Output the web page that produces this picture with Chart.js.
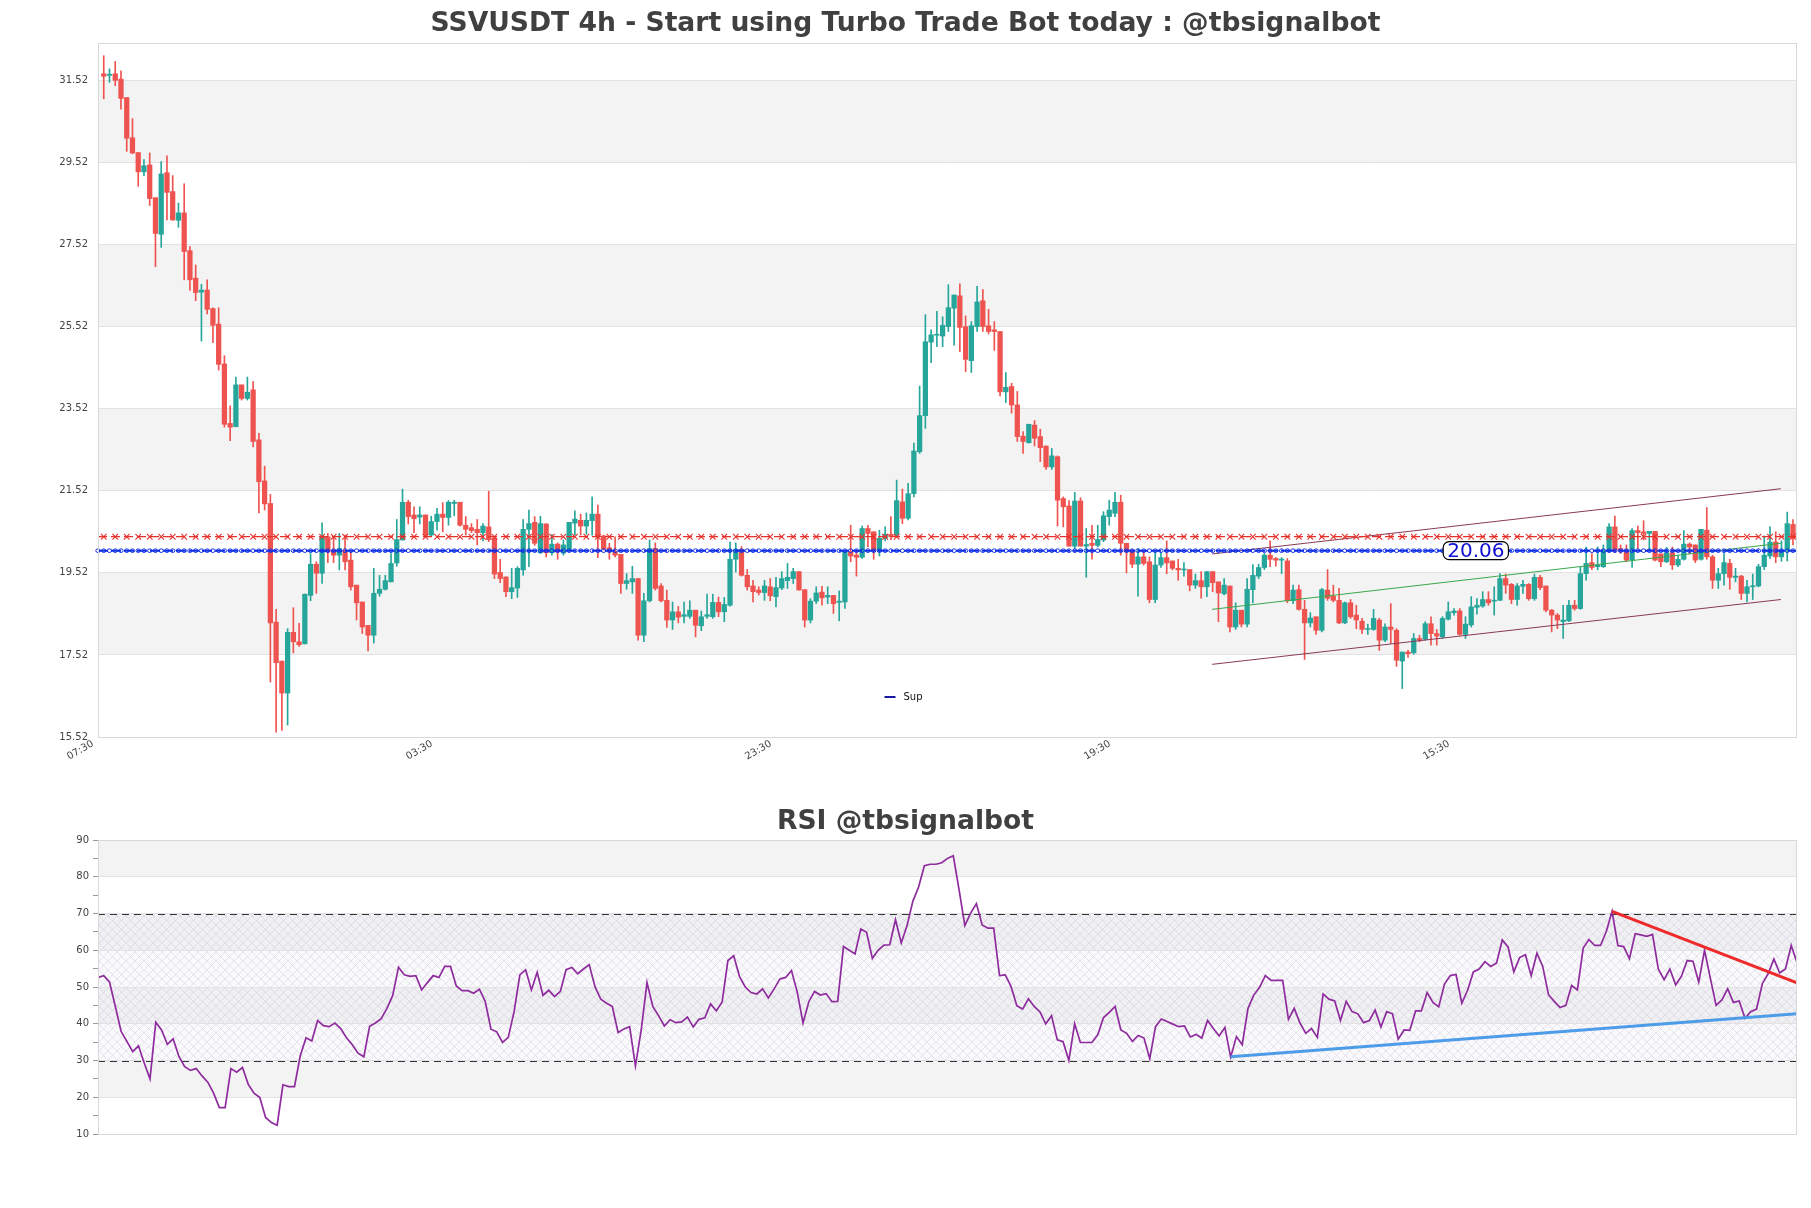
<!DOCTYPE html>
<html>
<head>
<meta charset="utf-8">
<title>SSVUSDT 4h</title>
<script src="https://cdn.jsdelivr.net/npm/chart.js@4.4.1/dist/chart.umd.min.js"></script>
<style>
  body { margin: 0; background: #fff; width: 1811px; height: 1208px; overflow: hidden; position: relative; }
  #mainchart { position: absolute; left: 0; top: 0; }
  #rsichart { position: absolute; left: 0; top: 790px; }
</style>
</head>
<body>
<canvas id="mainchart" width="1811" height="790"></canvas>
<canvas id="rsichart" width="1811" height="418"></canvas>
<script>
"use strict";

// candles (index 0 = first 4h candle)
const candleOpen = [31.68,31.64,31.68,31.55,31.10,30.12,29.76,29.29,29.46,28.66,27.77,29.27,28.81,28.11,28.29,27.37,26.70,26.36,26.41,25.96,25.58,24.61,23.16,23.08,24.10,23.77,23.98,22.76,21.76,21.21,18.32,17.37,16.59,18.07,17.84,17.79,18.97,19.73,19.51,20.40,20.07,19.95,20.07,19.83,19.22,18.81,18.24,18.00,19.02,19.12,19.30,19.76,20.32,21.24,20.93,20.88,20.93,20.44,20.77,20.95,20.87,21.21,21.24,20.68,20.62,20.58,20.50,20.64,20.36,19.53,19.42,19.06,19.15,19.59,20.58,20.75,20.01,20.71,20.01,20.22,20.00,20.09,20.73,20.80,20.66,20.79,20.95,20.42,20.13,20.03,19.97,19.26,19.30,19.38,18.00,18.84,20.11,19.20,18.85,18.37,18.57,18.46,18.46,18.61,18.23,18.46,18.45,18.80,18.57,18.73,19.85,20.09,19.46,19.20,19.10,19.04,19.18,18.94,19.15,19.33,19.38,19.55,19.11,18.37,18.83,19.05,18.93,18.97,18.80,18.81,20.03,19.95,19.90,20.60,20.52,20.07,20.36,20.46,20.44,21.25,20.85,21.45,22.47,23.35,25.14,25.31,25.29,25.52,25.97,26.27,25.52,24.69,25.52,26.15,25.54,25.44,25.40,23.93,24.06,23.61,22.85,22.69,23.12,22.84,22.61,22.10,22.35,21.33,21.15,20.17,21.27,20.17,20.24,20.19,20.32,20.89,20.97,21.24,20.24,20.07,19.73,19.91,19.79,18.87,19.71,19.89,19.81,19.63,19.59,19.60,19.22,19.33,19.18,19.55,19.30,19.01,19.20,18.20,18.61,18.27,19.11,19.44,19.65,19.95,19.87,19.83,19.81,18.84,19.11,18.63,18.30,18.45,18.12,19.10,18.95,18.85,18.30,18.79,18.49,18.34,18.14,18.14,18.37,17.88,18.20,18.12,17.37,17.59,17.57,17.92,17.90,18.28,18.04,17.96,18.39,18.55,18.59,18.02,18.25,18.68,18.71,18.87,18.83,18.85,19.38,19.24,18.87,19.19,19.24,18.89,19.41,19.20,18.61,18.49,18.33,18.35,18.73,18.65,19.50,19.77,19.67,19.67,20.07,20.64,20.11,20.07,19.83,20.55,20.52,20.48,20.53,19.98,19.79,20.01,19.71,19.85,20.22,20.20,19.85,20.56,19.91,19.34,19.50,19.75,19.41,19.44,19.02,19.18,19.20,19.67,19.93,20.27,19.91,20.07,20.70];
const candleHigh = [32.12,31.80,31.98,31.75,31.10,30.59,29.76,29.59,29.75,28.66,29.54,29.68,29.20,28.53,29.00,27.47,27.02,26.55,26.66,25.98,25.98,24.81,23.59,24.29,24.10,24.29,24.18,22.92,22.12,21.43,18.63,17.37,18.16,18.67,18.29,19.00,19.99,19.79,20.74,20.48,20.40,20.48,20.44,20.03,19.22,18.81,18.24,19.63,19.46,19.46,19.99,20.82,21.56,21.29,21.13,21.13,20.93,20.90,21.09,21.23,21.28,21.29,21.24,20.89,20.72,20.82,20.72,21.51,20.36,19.85,19.42,19.63,19.67,20.82,21.05,20.89,20.90,20.72,20.45,20.25,20.32,20.75,21.03,20.95,20.98,21.37,21.17,20.44,20.24,20.40,19.97,19.50,19.68,19.38,19.02,20.32,20.25,19.26,19.10,18.81,18.70,18.81,18.84,18.61,18.59,19.00,19.00,18.93,18.92,20.27,20.25,20.16,19.60,19.34,19.18,19.34,19.38,19.41,19.55,19.75,19.63,19.55,19.11,18.89,19.18,19.19,19.18,18.97,19.08,20.03,20.68,20.08,20.66,20.68,20.52,20.56,20.64,20.89,21.78,21.56,21.70,22.68,24.07,25.81,25.44,25.89,25.76,26.54,26.29,26.56,25.78,25.64,26.50,26.42,25.94,25.64,25.40,24.40,24.14,23.94,22.96,23.14,23.23,23.02,22.61,22.55,22.37,21.37,21.28,21.48,21.35,20.60,20.68,20.68,21.01,21.29,21.48,21.41,20.24,20.09,20.11,20.07,19.91,20.03,20.01,20.30,19.81,19.85,19.77,19.60,19.49,19.55,19.55,19.55,19.30,19.38,19.20,18.79,18.61,19.38,19.72,19.73,19.99,20.30,19.89,19.89,19.87,19.22,19.22,18.85,18.55,18.45,19.14,19.60,19.22,19.14,18.81,18.87,18.73,18.41,18.27,18.63,18.41,18.28,18.77,18.16,17.59,17.63,18.04,18.00,18.33,18.45,18.14,18.45,18.81,18.65,18.65,18.45,18.94,18.89,19.06,19.06,19.18,19.50,19.49,19.26,19.26,19.34,19.26,19.49,19.46,19.20,18.63,18.53,18.73,18.85,18.85,19.67,20.15,19.99,20.15,20.20,20.72,20.90,20.20,20.20,20.60,20.66,20.79,20.53,20.53,19.98,20.14,20.15,19.95,20.55,20.25,20.20,20.58,21.11,19.95,19.63,19.99,19.85,19.63,19.46,19.34,19.49,19.73,20.42,20.64,20.52,20.30,21.00,20.82];
const candleLow = [31.07,31.47,31.39,30.82,29.79,29.73,28.94,29.20,28.47,26.98,27.45,28.12,28.11,27.94,26.66,26.40,26.15,25.17,25.83,25.13,24.46,23.07,22.74,23.08,23.73,23.73,22.59,20.98,21.05,16.86,15.64,15.68,15.81,17.57,17.73,17.79,18.84,19.02,19.26,19.77,19.77,19.59,19.59,19.10,18.37,18.04,17.62,17.81,18.95,19.10,19.30,19.68,20.32,20.71,20.50,20.71,20.42,20.42,20.56,20.52,20.68,20.91,20.66,20.44,20.50,20.20,20.30,20.28,19.38,19.28,18.94,18.89,18.92,19.46,19.67,20.19,19.99,19.91,19.95,19.85,19.95,20.07,20.44,20.44,20.46,20.44,19.89,20.07,19.85,19.91,19.02,19.12,19.02,17.88,17.84,18.81,19.10,18.81,18.19,18.14,18.30,18.30,18.41,17.96,18.11,18.41,18.41,18.45,18.33,18.71,19.54,19.44,19.10,18.81,18.98,18.85,18.84,18.69,19.11,19.14,19.26,19.10,18.20,18.30,18.77,18.73,18.77,18.53,18.35,18.65,19.79,19.44,19.87,20.15,19.85,19.93,20.30,20.33,20.41,20.72,20.81,21.37,22.43,23.04,24.64,25.03,25.03,25.40,25.07,24.91,24.42,24.40,25.40,25.40,25.34,24.94,23.83,23.67,23.41,22.72,22.43,22.68,22.61,22.23,22.04,22.04,20.66,20.64,20.17,20.11,20.17,19.41,19.85,20.15,20.28,20.68,20.89,19.95,19.52,19.65,18.95,19.71,18.79,18.79,19.65,19.50,19.59,19.34,19.44,19.08,19.14,18.90,18.94,19.06,18.33,18.98,18.08,18.14,18.20,18.20,18.79,19.38,19.60,19.67,19.68,19.50,18.79,18.77,18.61,17.41,18.20,18.02,18.08,18.85,18.81,18.28,18.28,18.41,18.16,18.04,18.02,18.12,17.63,17.84,17.80,17.24,16.70,17.46,17.54,17.84,17.88,17.76,17.76,17.92,18.37,18.49,18.00,17.92,18.20,18.51,18.68,18.73,18.49,18.84,19.02,18.77,18.73,19.02,18.85,18.85,19.11,18.57,18.08,18.16,17.92,18.33,18.61,18.63,19.34,19.60,19.59,19.65,20.03,20.01,19.99,19.79,19.65,20.11,20.32,20.07,19.81,19.67,19.77,19.60,19.67,19.83,19.98,19.77,19.83,19.85,19.14,19.14,19.22,19.12,19.30,18.87,18.81,18.87,19.18,19.60,19.87,19.77,19.80,19.81,20.20];
const candleClose = [31.62,31.67,31.52,31.08,30.11,29.75,29.29,29.44,28.64,27.79,29.24,28.79,28.12,28.29,27.35,26.66,26.35,26.41,25.94,25.55,24.60,23.14,23.07,24.10,23.77,23.92,22.72,21.74,21.20,18.30,17.33,16.59,18.07,17.84,17.77,19.00,19.73,19.51,20.40,20.03,19.95,20.11,19.79,19.18,18.79,18.20,18.00,19.02,19.12,19.33,19.75,20.33,21.24,20.89,20.84,20.93,20.44,20.77,20.95,20.87,21.24,21.24,20.68,20.58,20.55,20.50,20.66,20.33,19.49,19.38,19.06,19.16,19.63,20.58,20.72,20.24,20.72,20.01,20.22,20.03,20.20,20.75,20.83,20.66,20.80,20.95,20.40,20.11,20.03,19.95,19.26,19.33,19.38,18.00,18.84,20.11,19.14,18.84,18.37,18.57,18.44,18.50,18.61,18.24,18.45,18.50,18.80,18.57,18.75,19.85,20.09,19.46,19.18,19.06,19.04,19.20,18.96,19.16,19.38,19.41,19.55,19.10,18.37,18.83,19.03,18.91,18.97,18.77,18.83,20.03,19.93,19.90,20.60,20.48,20.07,20.36,20.46,20.40,21.28,20.85,21.45,22.49,23.35,25.15,25.32,25.32,25.55,25.98,26.29,25.50,24.72,25.54,26.12,25.52,25.40,25.40,23.93,24.04,23.61,22.84,22.72,23.14,22.80,22.57,22.10,22.37,21.29,21.13,20.17,21.27,20.17,20.21,20.19,20.33,20.91,21.05,21.24,20.24,20.03,19.73,19.91,19.75,18.87,19.71,19.89,19.76,19.63,19.59,19.61,19.22,19.33,19.18,19.55,19.28,19.03,19.22,18.20,18.61,18.27,19.12,19.46,19.65,19.95,19.85,19.83,19.85,18.84,19.10,18.63,18.30,18.42,18.12,19.11,18.90,18.85,18.30,18.79,18.45,18.37,18.14,18.16,18.41,17.88,18.20,18.14,17.39,17.59,17.55,17.92,17.88,18.28,18.04,17.98,18.41,18.57,18.59,18.02,18.27,18.69,18.73,18.87,18.79,18.85,19.38,19.22,18.87,19.20,19.24,18.89,19.41,19.16,18.61,18.49,18.37,18.37,18.73,18.65,19.50,19.75,19.65,19.71,20.07,20.64,20.07,20.07,19.83,20.55,20.50,20.48,20.53,19.83,19.79,20.01,19.71,19.85,20.22,20.15,19.83,20.58,19.91,19.34,19.50,19.77,19.41,19.44,19.02,19.18,19.20,19.67,19.95,20.27,19.91,20.07,20.72,20.36];

const rsiValues = [52.6,53.1,51.3,44.7,37.9,35.2,32.4,34.0,29.3,25.0,40.4,38.3,34.4,35.9,31.1,28.3,27.3,27.8,25.8,24.1,21.1,17.2,17.2,27.8,26.8,28.1,23.5,21.1,19.9,14.5,13.1,12.4,23.4,22.9,22.9,31.3,36.2,35.3,40.9,39.5,39.2,40.2,38.7,36.2,34.3,32.0,31.0,39.3,40.2,41.4,44.2,47.7,55.4,53.3,52.9,53.1,49.2,51.2,53.1,52.6,55.6,55.6,50.3,49.0,49.0,48.3,49.4,46.1,38.5,37.8,34.9,36.3,43.3,53.3,54.7,49.2,54.0,47.7,49.1,47.4,48.8,54.7,55.3,53.6,54.9,56.1,50.1,46.7,45.6,44.7,37.6,38.6,39.2,28.5,38.3,51.2,44.7,42.2,39.4,41.1,40.3,40.5,41.8,39.1,41.2,41.6,45.4,43.5,45.9,57.2,58.5,52.9,50.0,48.5,48.1,49.5,47.0,49.5,52.2,52.6,54.5,48.6,40.2,46.0,48.8,47.8,48.2,46.0,46.1,61.0,60.0,59.0,65.8,64.9,57.8,60.0,61.4,61.5,68.3,62.0,66.7,73.3,77.2,83.0,83.4,83.4,83.8,85.0,85.7,76.5,66.7,70.1,72.7,66.9,66.0,66.0,53.1,53.3,50.1,44.9,44.0,46.8,44.7,43.2,40.0,42.2,35.6,35.1,30.0,40.0,34.9,34.9,34.9,37.0,41.7,43.1,44.7,38.3,37.4,35.2,36.8,36.1,30.5,39.2,41.3,40.6,39.9,39.2,39.4,36.4,37.1,36.1,40.9,38.7,36.7,39.0,30.9,36.5,34.3,44.2,47.8,49.9,53.1,51.8,51.8,51.8,41.2,44.2,40.2,37.4,38.7,36.3,48.1,46.7,46.2,40.9,46.1,43.3,42.7,40.3,40.9,43.7,39.1,43.3,42.7,35.8,38.3,38.2,43.5,43.5,48.5,45.8,44.6,50.8,53.1,53.4,45.6,49.1,54.1,54.9,56.9,55.6,56.5,62.8,60.9,54.1,58.0,58.8,53.1,59.2,55.6,47.9,46.1,44.4,45.0,50.4,49.2,60.6,62.9,61.3,61.3,65.1,70.6,61.3,61.0,57.7,64.5,64.2,63.8,64.3,54.9,52.0,54.9,50.6,52.9,57.2,57.0,51.3,60.0,52.4,45.0,46.5,49.5,45.8,46.2,41.5,43.3,44.0,50.9,53.6,57.6,53.8,54.9,61.3,56.7];

const priceTicks = [15.52, 17.52, 19.52, 21.52, 23.52, 25.52, 27.52, 29.52, 31.52];
const timeTickIndex = [-1, 58, 117, 176, 235];
const timeTickLabels = ["07:30", "03:30", "23:30", "19:30", "15:30"];

const supportLevel = 20.06;
const resistanceLevel = 20.40;

// trend lines as [index, price] pairs
const channelTop = [[192.9, 19.98], [291.9, 21.57]];
const channelBottom = [[192.9, 17.29], [291.9, 18.87]];
const channelMid = [[192.9, 18.63], [291.9, 20.24]];
const rsiSupport = [[196, 31.0], [294, 42.7]];
const rsiResistance = [[262, 70.6], [294, 51.1]];

const UP = "#26a69a";
const DOWN = "#ef5350";
const FONT = "'DejaVu Sans', 'Liberation Sans', sans-serif";

Chart.defaults.font.family = FONT;
Chart.defaults.color = "#444";

function toPoints(pairs) {
  return pairs.map((p) => ({ x: p[0], y: p[1] }));
}

/**
 * Grey bands between every second pair of grid lines and a frame round the plot.
 */
function bandPlugin(bands, hatchRange) {
  return {
    id: "bands",
    beforeDraw(chart) {
      const { ctx, chartArea } = chart;
      const y = chart.scales.y;
      ctx.save();
      ctx.fillStyle = "#fff";
      ctx.fillRect(0, 0, chart.width, chart.height);
      ctx.fillStyle = "#f3f3f3";
      bands.forEach((b) => {
        const top = y.getPixelForValue(b[1]);
        const bottom = y.getPixelForValue(b[0]);
        ctx.fillRect(chartArea.left, top, chartArea.right - chartArea.left, bottom - top);
      });
      if (hatchRange) {
        const top = y.getPixelForValue(hatchRange[1]);
        const bottom = y.getPixelForValue(hatchRange[0]);
        ctx.fillStyle = "rgba(228, 222, 238, 0.18)";
        ctx.fillRect(chartArea.left, top, chartArea.right - chartArea.left, bottom - top);
        const tile = document.createElement("canvas");
        tile.width = 9;
        tile.height = 9;
        const g = tile.getContext("2d");
        g.strokeStyle = "rgba(172, 162, 195, 0.42)";
        g.lineWidth = 0.6;
        g.beginPath();
        g.moveTo(0, 0);
        g.lineTo(9, 9);
        g.moveTo(9, 0);
        g.lineTo(0, 9);
        g.stroke();
        ctx.fillStyle = ctx.createPattern(tile, "repeat");
        ctx.fillRect(chartArea.left, top, chartArea.right - chartArea.left, bottom - top);
      }
      ctx.restore();
    },
    afterDraw(chart) {
      const { ctx, chartArea } = chart;
      ctx.save();
      ctx.strokeStyle = "#d8d8d8";
      ctx.lineWidth = 1;
      ctx.strokeRect(chartArea.left + 0.5, chartArea.top + 0.5, chartArea.right - chartArea.left - 1, chartArea.bottom - chartArea.top);
      ctx.restore();
    },
  };
}

function titlePlugin(text, y) {
  return {
    id: "titletext",
    afterDraw(chart) {
      const ctx = chart.ctx;
      ctx.save();
      ctx.font = "bold 26.6px " + FONT;
      ctx.fillStyle = "#404040";
      ctx.textAlign = "center";
      ctx.textBaseline = "middle";
      ctx.fillText(text, chart.width / 2, y);
      ctx.restore();
    },
  };
}

// support / resistance levels, their price tag and the small legend
const levelPlugin = {
  id: "levels",
  afterDatasetsDraw(chart) {
    const { ctx, chartArea } = chart;
    const x = chart.scales.x;
    const y = chart.scales.y;
    const left = chartArea.left;
    const right = chartArea.right;
    ctx.save();

    const ry = y.getPixelForValue(resistanceLevel);
    ctx.strokeStyle = "#e8302a";
    ctx.lineWidth = 1.3;
    ctx.setLineDash([9, 4]);
    ctx.beginPath();
    ctx.moveTo(left, ry);
    ctx.lineTo(right, ry);
    ctx.stroke();
    ctx.setLineDash([]);
    ctx.lineWidth = 1.1;
    for (let i = 0; i < candleOpen.length; i += 2) {
      const px = x.getPixelForValue(i);
      ctx.beginPath();
      ctx.moveTo(px - 2.8, ry - 2.8);
      ctx.lineTo(px + 2.8, ry + 2.8);
      ctx.moveTo(px + 2.8, ry - 2.8);
      ctx.lineTo(px - 2.8, ry + 2.8);
      ctx.stroke();
    }

    const by = y.getPixelForValue(supportLevel);
    ctx.strokeStyle = "#1030e8";
    ctx.lineWidth = 2;
    ctx.setLineDash([10, 3]);
    ctx.beginPath();
    ctx.moveTo(left, by);
    ctx.lineTo(right, by);
    ctx.stroke();
    ctx.setLineDash([]);
    ctx.lineWidth = 1;
    for (let i = -1; i < candleOpen.length; i++) {
      const px = x.getPixelForValue(i);
      ctx.beginPath();
      ctx.ellipse(px, by, 2.2, 1.8, 0, 0, Math.PI * 2);
      ctx.stroke();
    }

    // price tag
    const tagX = x.getPixelForValue(238.8);
    ctx.font = "20px " + FONT;
    const w = ctx.measureText(supportLevel.toFixed(2)).width + 8;
    const h = 18;
    ctx.beginPath();
    ctx.roundRect(tagX - w / 2, by - h / 2, w, h, 6);
    ctx.fillStyle = "#fff";
    ctx.fill();
    ctx.strokeStyle = "#000";
    ctx.lineWidth = 1.2;
    ctx.stroke();
    ctx.fillStyle = "#1010d0";
    ctx.textAlign = "center";
    ctx.textBaseline = "middle";
    ctx.fillText(supportLevel.toFixed(2), tagX, by + 1);

    // legend
    const lx = (left + right) / 2 - 63;
    const ly = chartArea.bottom - 40;
    ctx.strokeStyle = "#1818a0";
    ctx.lineWidth = 2;
    ctx.beginPath();
    ctx.moveTo(lx, ly);
    ctx.lineTo(lx + 11, ly);
    ctx.stroke();
    ctx.fillStyle = "#111";
    ctx.font = "10px " + FONT;
    ctx.textAlign = "left";
    ctx.fillText("Sup", lx + 19, ly);
    ctx.restore();
  },
};

const rsiLevelPlugin = {
  id: "rsilevels",
  beforeDatasetsDraw(chart) {
    const { ctx, chartArea } = chart;
    const y = chart.scales.y;
    ctx.save();
    ctx.strokeStyle = "#333";
    ctx.lineWidth = 1.2;
    ctx.setLineDash([7, 5]);
    [30, 70].forEach((v) => {
      const py = Math.round(y.getPixelForValue(v)) + 0.5;
      ctx.beginPath();
      ctx.moveTo(chartArea.left, py);
      ctx.lineTo(chartArea.right, py);
      ctx.stroke();
    });
    ctx.restore();
  },
};

function createPriceChart() {
  const canvas = document.querySelector("#mainchart");
  const colours = candleOpen.map((o, i) => (candleClose[i] >= o ? UP : DOWN));
  const bodies = candleOpen.map((o, i) => ({ x: i, y: [o, candleClose[i]] }));
  const wicks = candleLow.map((l, i) => ({ x: i, y: [l, candleHigh[i]] }));

  new Chart(canvas, {
    type: "bar",
    data: {
      datasets: [
        { data: bodies, backgroundColor: colours, barThickness: 4.6, minBarLength: 1, grouped: false, order: 2 },
        { data: wicks, backgroundColor: colours, barThickness: 1, grouped: false, order: 3 },
        { type: "line", data: toPoints(channelTop), borderColor: "#8a3a55", borderWidth: 1, pointRadius: 0, order: 1 },
        { type: "line", data: toPoints(channelBottom), borderColor: "#8a3a55", borderWidth: 1, pointRadius: 0, order: 1 },
        { type: "line", data: toPoints(channelMid), borderColor: "#3aa84a", borderWidth: 1, pointRadius: 0, order: 1 },
      ],
    },
    options: {
      responsive: false,
      animation: false,
      events: [],
      layout: { padding: { left: 0, right: 14, top: 43, bottom: 0 } },
      plugins: { legend: { display: false }, tooltip: { enabled: false } },
      scales: {
        x: {
          type: "linear",
          min: -1,
          max: 294.7,
          offset: false,
          grid: { display: false, drawTicks: false },
          border: { display: false },
          afterBuildTicks: (scale) => {
            scale.ticks = timeTickIndex.map((v) => ({ value: v }));
          },
          afterFit: (scale) => {
            scale.height = 53;
          },
          ticks: {
            autoSkip: false,
            minRotation: 30,
            maxRotation: 30,
            padding: 1,
            labelOffset: -5,
            font: { size: 10 },
            callback: (value, index) => timeTickLabels[index],
          },
        },
        y: {
          min: 15.52,
          max: 32.43,
          border: { display: false },
          grid: { color: "#e2e2e2", drawTicks: false },
          afterBuildTicks: (scale) => {
            scale.ticks = priceTicks.map((v) => ({ value: v }));
          },
          afterFit: (scale) => {
            scale.width = 98;
          },
          ticks: { padding: 10, font: { size: 10 }, callback: (v) => v.toFixed(2) },
        },
      },
    },
    plugins: [
      bandPlugin([[17.52, 19.52], [21.52, 23.52], [25.52, 27.52], [29.52, 31.52]], null),
      levelPlugin,
      titlePlugin("SSVUSDT 4h - Start using Turbo Trade Bot today : @tbsignalbot", 24),
    ],
  });
}

function createRsiChart() {
  const canvas = document.querySelector("#rsichart");
  new Chart(canvas, {
    type: "line",
    data: {
      datasets: [
        { data: rsiValues.map((v, i) => ({ x: i, y: v })), borderColor: "#8e2c9e", borderWidth: 1.7, pointRadius: 0, order: 2 },
        { data: toPoints(rsiSupport), borderColor: "#4d9ce8", borderWidth: 3, pointRadius: 0, order: 1 },
        { data: toPoints(rsiResistance), borderColor: "#ee2a2a", borderWidth: 3, pointRadius: 0, order: 1 },
      ],
    },
    options: {
      responsive: false,
      animation: false,
      events: [],
      layout: { padding: { left: 0, right: 14, top: 50, bottom: 74 } },
      plugins: { legend: { display: false }, tooltip: { enabled: false } },
      scales: {
        x: { type: "linear", min: 0, max: 294, display: false },
        y: {
          min: 10,
          max: 90,
          border: { display: false },
          grid: {
            color: (c) => (c.tick && c.tick.value % 10 === 0 ? "#e2e2e2" : "rgba(0,0,0,0)"),
            tickColor: "#999",
            tickLength: 5,
          },
          afterFit: (scale) => {
            scale.width = 98;
          },
          ticks: {
            stepSize: 5,
            padding: 4,
            font: { size: 10 },
            callback: (v) => (v % 10 === 0 ? v : ""),
          },
        },
      },
    },
    plugins: [
      bandPlugin([[20, 30], [40, 50], [60, 70], [80, 90]], [30, 70]),
      rsiLevelPlugin,
      titlePlugin("RSI @tbsignalbot", 32),
    ],
  });
}

createPriceChart();
createRsiChart();
</script>
</body>
</html>
